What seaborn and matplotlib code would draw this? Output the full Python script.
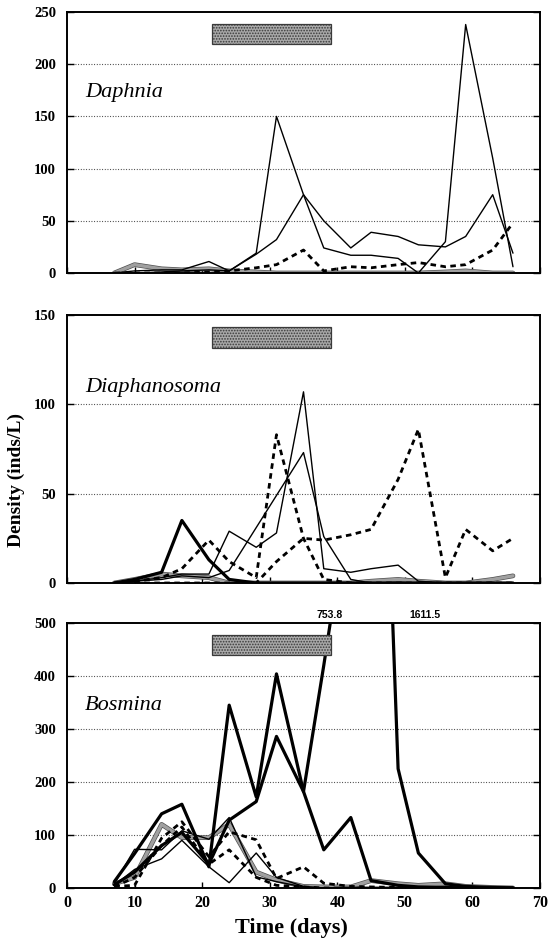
import matplotlib
matplotlib.use("Agg")
import matplotlib.pyplot as plt
import matplotlib.patheffects as pe
import matplotlib.transforms as mtransforms
from matplotlib.patches import Rectangle
import pandas as pd
import seaborn as sns

# Sampling days
days = [7, 10, 14, 17, 21, 24, 28, 31, 35, 38, 42, 45, 49, 52, 56, 59, 63, 66]

# Daphnia densities (inds/L)
daph_thin_a = [0, 2, 3, 3, 11, 2, 19, 150, 75, 24, 17, 17, 14, 0, 30, 238, 110, 6]
daph_thin_b = [0, 0, 1, 2, 3, 2, 18, 32, 75, 50, 24, 39, 35, 27, 25, 35, 75, 19]
daph_dash = [0, 0, 0, 0, 1, 2, 5, 8, 22, 2, 6, 5, 8, 10, 6, 8, 22, 48]
daph_grey = [0, 8, 4, 3, 4, 2, 1, 0, 0, 0, 0, 0, 0, 0, 1, 2, 0, 0]

# Diaphanosoma densities (inds/L)
diap_thick = [0, 2, 6, 35, 13, 2, 0, 0, 0, 0, 0, 0, 0, 0, 0, 0, 0, 0]
diap_thin_c = [0, 1, 3, 5, 5, 29, 20, 28, 107, 8, 6, 8, 10, 1, 0, 0, 0, 0]
diap_thin_d = [0, 1, 2, 4, 3, 7, 31, 49, 73, 26, 2, 0, 0, 0, 0, 0, 0, 0]
diap_dash_e = [0, 1, 3, 8, 24, 12, 3, 83, 25, 2, 0, 0, 0, 0, 0, 0, 0, 0]
diap_dash_f = [0, 0, 0, 0, 0, 0, 0, 12, 25, 24, 27, 30, 58, 86, 3, 30, 18, 25]
diap_grey = [0, 2, 5, 4, 3, 0, 0, 0, 0, 0, 0, 1, 2, 1, 0, 0, 2, 4]

# Bosmina densities (inds/L)
bosm_thick_a = [12, 65, 140, 158, 40, 345, 172, 404, 182, 72, 133, 14, 5, 2, 1, 0, 0, 0]
bosm_thick_b = [6, 30, 80, 105, 45, 128, 163, 286, 182, 420, 753.8, 1611.5, 225, 66, 8, 3, 1, 0]
bosm_thin_g = [8, 73, 72, 108, 92, 133, 21, 12, 2, 0, 0, 0, 0, 0, 0, 0, 0, 0]
bosm_thin_h = [5, 35, 55, 90, 40, 10, 66, 20, 3, 0, 0, 0, 0, 0, 0, 0, 0, 0]
bosm_dash_i = [3, 5, 94, 125, 59, 106, 91, 18, 40, 9, 3, 2, 1, 0, 0, 0, 0, 0]
bosm_dash_j = [2, 20, 80, 115, 45, 72, 20, 5, 2, 0, 0, 0, 0, 0, 0, 0, 0, 0]
bosm_grey = [8, 20, 120, 95, 95, 120, 30, 15, 3, 2, 2, 14, 8, 5, 8, 3, 1, 0]

panel_names = ["Daphnia", "Diaphanosoma", "Bosmina"]
panel_ymax = [250, 150, 500]
panel_ystep = [50, 50, 100]
off_scale = [(38.9, "753.8"), (53.0, "1611.5")]

sns.set_theme(style="white")
plt.rcParams["font.family"] = ["Liberation Serif", "DejaVu Serif"]
plt.rcParams["text.color"] = "black"
plt.rcParams["axes.labelcolor"] = "black"
plt.rcParams["xtick.color"] = "black"
plt.rcParams["ytick.color"] = "black"
plt.rcParams["hatch.linewidth"] = 0.8
plt.rcParams["hatch.color"] = "#4a4a4a"

STYLES = {
    "thin": dict(color="black", linewidth=1.0, linestyle="-"),
    "thick": dict(color="black", linewidth=2.3, linestyle="-"),
    "dash": dict(color="black", linewidth=2.0, linestyle=(0, (2.0, 1.6))),
    "grey": dict(color="#a0a0a0", linewidth=2.4, linestyle="-",
                 path_effects=[pe.Stroke(linewidth=3.4, foreground="#505050"), pe.Normal()]),
}

panels = [
    [("grey", daph_grey), ("dash", daph_dash), ("thin", daph_thin_b), ("thin", daph_thin_a)],
    [("grey", diap_grey), ("thick", diap_thick), ("thin", diap_thin_c), ("thin", diap_thin_d),
     ("dash", diap_dash_e), ("dash", diap_dash_f)],
    [("grey", bosm_grey), ("dash", bosm_dash_j), ("dash", bosm_dash_i), ("thin", bosm_thin_h),
     ("thin", bosm_thin_g), ("thick", bosm_thick_a), ("thick", bosm_thick_b)],
]

fig = plt.figure(figsize=(5.49, 9.49), dpi=100)
W, H = 549.0, 949.0
boxes = [(12, 273), (315, 583), (623, 888)]
left, right = 67, 540

axes = []
for (top, bot) in boxes:
    ax = fig.add_axes([left / W, 1 - bot / H, (right - left) / W, (bot - top) / H])
    axes.append(ax)

for i, ax in enumerate(axes):
    for style, vals in panels[i]:
        df = pd.DataFrame({"day": days, "density": vals})
        sns.lineplot(data=df, x="day", y="density", ax=ax, estimator=None,
                     legend=False, **STYLES[style])

    ymax = panel_ymax[i]
    ax.set_xlim(0, 70)
    ax.set_ylim(0, ymax)
    yt = list(range(0, ymax + 1, panel_ystep[i]))
    ax.set_yticks(yt)
    ax.set_xticks(range(0, 71, 10))
    for y in yt[1:-1]:
        ax.axhline(y, color="#333333", linewidth=0.8, linestyle=(0, (0.8, 1.6)), zorder=0.5)

    ax.tick_params(axis="y", direction="in", length=5, width=1.0, left=True, right=True,
                   labelsize=10.5, pad=8, colors="black")
    ax.tick_params(axis="x", direction="in", length=4, width=1.0, bottom=True,
                   labelsize=11.5, pad=5, colors="black")
    for lab in ax.get_yticklabels() + ax.get_xticklabels():
        lab.set_fontweight("bold")
    if i < 2:
        ax.set_xticklabels([])
    ax.set_xlabel("")
    ax.set_ylabel("")
    for sp in ax.spines.values():
        sp.set_visible(True)
        sp.set_color("black")
        sp.set_linewidth(1.4)

    # treatment period bar
    trans = mtransforms.blended_transform_factory(ax.transData, ax.transAxes)
    ax.add_patch(Rectangle((21.5, 0.878), 17.5, 0.076, transform=trans,
                           facecolor="#a9a9a9", edgecolor="#3a3a3a", hatch="......",
                           linewidth=0.9, zorder=3))

    ax.text(0.038, [0.674, 0.714, 0.672][i], panel_names[i], transform=ax.transAxes,
            fontsize=16, fontstyle="italic", ha="left", va="baseline", color="black")

# values of the Bosmina peaks beyond the axis range
trans3 = mtransforms.blended_transform_factory(axes[2].transData, axes[2].transAxes)
for x, txt in off_scale:
    axes[2].text(x, 1.012, txt, transform=trans3, ha="center", va="bottom",
                 fontsize=7.5, fontweight="bold", family=["Liberation Sans", "DejaVu Sans"],
                 color="black")

fig.text(291 / W, 1 - 928 / H, "Time (days)", ha="center", va="center",
         fontsize=16, fontweight="bold", color="black")
fig.text(16 / W, 1 - 480 / H, "Density (inds/L)", ha="center", va="center",
         rotation=90, fontsize=14, fontweight="bold", color="black")

fig.savefig("out.png", dpi=100)
